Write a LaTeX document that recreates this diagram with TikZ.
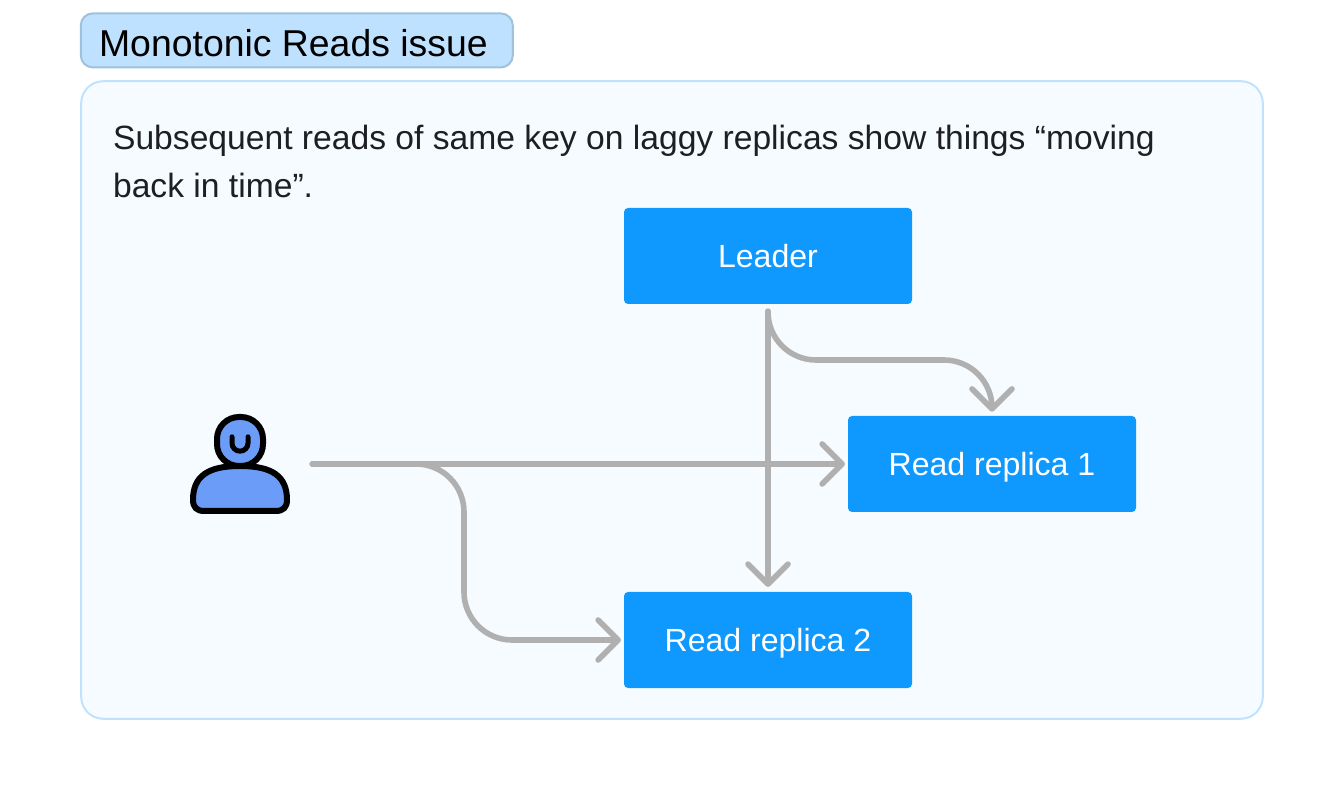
\documentclass[tikz,border=0pt]{standalone}
\usepackage{fontspec}
\setmainfont{Liberation Sans}
\usetikzlibrary{arrows.meta}
\definecolor{panelfill}{HTML}{F6FBFF}
\definecolor{panelline}{HTML}{BFE3FF}
\definecolor{titlefill}{HTML}{BDE1FE}
\definecolor{titleline}{HTML}{9FC1DC}
\definecolor{boxfill}{HTML}{0F99FF}
\definecolor{connline}{HTML}{B0B0B0}
\definecolor{personfill}{HTML}{6B9CF8}
\definecolor{bodytext}{HTML}{1D1F24}
\tikzset{
    box/.style={fill=boxfill, text=white, rounded corners=0.1cm, minimum width=7.2cm, minimum height=2.4cm, inner sep=0pt, text height=0.7cm, text depth=0.12cm, font=\fontsize{22.8}{28}\selectfont},
    conn/.style={draw=connline, line width=0.14cm, line cap=round, rounded corners=1.2cm, -{Straight Barb[length=0.5cm, width=1cm, line cap=round, round]}},
    person/.style={draw=black, line width=0.15cm, fill=personfill, line join=round},
}
\begin{document}
\begin{tikzpicture}
    \useasboundingbox (0,0) rectangle (33.6,20);
    % panel and heading
    \draw[draw=panelline, fill=panelfill, line width=0.05cm, rounded corners=0.55cm] (2.03,2.03) rectangle (31.57,17.97);
    \node[draw=titleline, fill=titlefill, line width=0.05cm, rounded corners=0.3cm, minimum width=10.8cm, minimum height=1.35cm, inner sep=0pt] (title) at (7.42,18.99) {};
    \node[anchor=base west, inner sep=0pt, font=\fontsize{26.6}{30}\selectfont] (titletext) at (2.47,18.58) {Monotonic Reads issue};
    \node[anchor=base west, inner sep=0pt, text=bodytext, font=\fontsize{23.93}{34.14}\selectfont] (line1) at (2.82,16.27) {Subsequent reads of same key on laggy replicas show things “moving};
    \node[anchor=base west, inner sep=0pt, text=bodytext, font=\fontsize{23.93}{34.14}\selectfont] (line2) at (2.82,15.07) {back in time”.};
    % nodes
    \node[box] (leader) at (19.2,13.6) {Leader};
    \node[box] (replica1) at (24.8,8.4) {Read replica 1};
    \node[box] (replica2) at (19.2,4.0) {Read replica 2};
    \node[minimum width=2.5cm, minimum height=2.5cm, inner sep=0pt] (user) at (6,8.4) {};
    % person
    \draw[person] (4.825,7.5) .. controls (4.825,8.1) and (5.2,8.35) .. (6,8.35) .. controls (6.8,8.35) and (7.175,8.1) .. (7.175,7.5) .. controls (7.175,7.32) and (7.08,7.225) .. (6.9,7.225) -- (5.1,7.225) .. controls (4.92,7.225) and (4.825,7.32) .. (4.825,7.5) -- cycle;
    \draw[person, rounded corners=0.55cm] (5.425,8.35) rectangle (6.575,9.575);
    \draw[draw=black, line width=0.125cm, line cap=round] (5.8,9.08) -- (5.8,8.92) arc[start angle=180, end angle=360, radius=0.2] -- (6.2,9.08);
    % connectors
    \draw[conn, shorten <=0.55cm, shorten >=0.07cm] (user.east) -- (replica1.west);
    \draw[conn, shorten <=0.55cm, shorten >=0.07cm] (user.east) -- (11.6,8.4) -- (11.6,4.0) -- (replica2.west);
    \draw[conn, shorten <=0.175cm, shorten >=0.12cm] (leader.south) -- (replica2.north);
    \draw[conn, shorten <=0.175cm, shorten >=0.1cm] (leader.south) -- (19.2,11) -| (replica1.north);
\end{tikzpicture}
\end{document}
